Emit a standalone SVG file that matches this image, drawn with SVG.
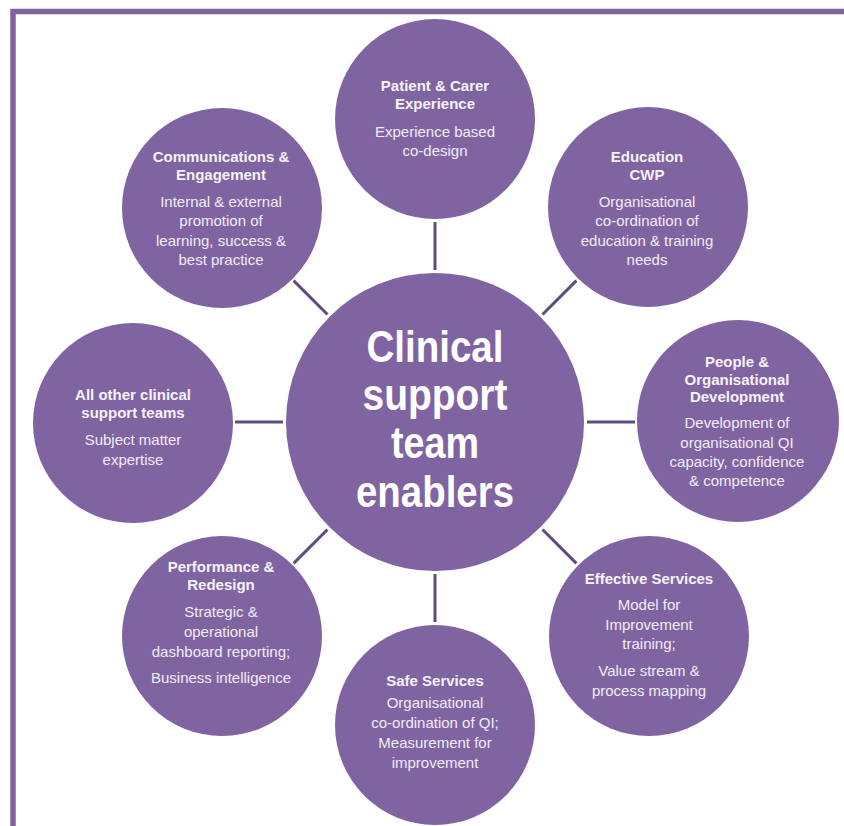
<svg xmlns="http://www.w3.org/2000/svg" width="844" height="826" viewBox="0 0 844 826">
<style>
.c{fill:#8064A2}
.t{font-family:"Liberation Sans",Arial,sans-serif;font-size:15px;font-weight:bold;fill:#F6F3FA;text-anchor:middle}
.b{font-family:"Liberation Sans",Arial,sans-serif;font-size:15px;fill:#F1EDF6;text-anchor:middle}
.m{font-family:"Liberation Sans",Arial,sans-serif;font-size:44px;font-weight:bold;fill:#FFFFFF;text-anchor:middle}
.k{stroke:#5F4B7D;stroke-width:3;fill:none}
</style>
<rect width="844" height="826" fill="#FFFFFF"/>
<path d="M13 826 V11.5 H844" fill="none" stroke="#8064A2" stroke-width="5.5"/>
<g id="connectors" class="k">
<line x1="435" y1="270" x2="435" y2="222"/>
<line x1="542.5" y1="314.5" x2="576.4" y2="280.6"/>
<line x1="587" y1="422" x2="635" y2="422"/>
<line x1="542.5" y1="529.5" x2="576.4" y2="563.4"/>
<line x1="435" y1="574" x2="435" y2="622"/>
<line x1="327.5" y1="529.5" x2="293.6" y2="563.4"/>
<line x1="283" y1="422" x2="235" y2="422"/>
<line x1="327.5" y1="314.5" x2="293.6" y2="280.6"/>
</g>
<g id="center">
<circle class="c" cx="435" cy="422" r="149"/>
<text class="m" x="435" y="362" textLength="137" lengthAdjust="spacingAndGlyphs">Clinical</text>
<text class="m" x="435" y="410" textLength="145" lengthAdjust="spacingAndGlyphs">support</text>
<text class="m" x="435" y="458" textLength="88" lengthAdjust="spacingAndGlyphs">team</text>
<text class="m" x="435" y="507" textLength="158" lengthAdjust="spacingAndGlyphs">enablers</text>
</g>
<g id="patient">
<circle class="c" cx="435" cy="119" r="100"/>
<text class="t" x="435" y="91">Patient &amp; Carer</text>
<text class="t" x="435" y="109">Experience</text>
<text class="b" x="435" y="137">Experience based</text>
<text class="b" x="435" y="156">co-design</text>
</g>
<g id="education">
<circle class="c" cx="648" cy="207" r="100"/>
<text class="t" x="647" y="162">Education</text>
<text class="t" x="647" y="180">CWP</text>
<text class="b" x="647" y="207">Organisational</text>
<text class="b" x="647" y="226">co-ordination of</text>
<text class="b" x="647" y="246">education &amp; training</text>
<text class="b" x="647" y="265">needs</text>
</g>
<g id="people">
<circle class="c" cx="738" cy="421" r="101"/>
<text class="t" x="737" y="367">People &amp;</text>
<text class="t" x="737" y="385">Organisational</text>
<text class="t" x="737" y="402">Development</text>
<text class="b" x="737" y="428">Development of</text>
<text class="b" x="737" y="448">organisational QI</text>
<text class="b" x="737" y="467">capacity, confidence</text>
<text class="b" x="737" y="486">&amp; competence</text>
</g>
<g id="effective">
<circle class="c" cx="649" cy="636" r="100"/>
<text class="t" x="649" y="584">Effective Services</text>
<text class="b" x="649" y="610">Model for</text>
<text class="b" x="649" y="630">Improvement</text>
<text class="b" x="649" y="649">training;</text>
<text class="b" x="649" y="676">Value stream &amp;</text>
<text class="b" x="649" y="696">process mapping</text>
</g>
<g id="safe">
<circle class="c" cx="435" cy="725" r="100"/>
<text class="t" x="435" y="686">Safe Services</text>
<text class="b" x="435" y="708">Organisational</text>
<text class="b" x="435" y="728">co-ordination of QI;</text>
<text class="b" x="435" y="748">Measurement for</text>
<text class="b" x="435" y="768">improvement</text>
</g>
<g id="performance">
<circle class="c" cx="222" cy="636" r="100"/>
<text class="t" x="221" y="572">Performance &amp;</text>
<text class="t" x="221" y="590">Redesign</text>
<text class="b" x="221" y="617">Strategic &amp;</text>
<text class="b" x="221" y="637">operational</text>
<text class="b" x="221" y="657">dashboard reporting;</text>
<text class="b" x="221" y="683">Business intelligence</text>
</g>
<g id="allother">
<circle class="c" cx="133" cy="423" r="100"/>
<text class="t" x="133" y="400">All other clinical</text>
<text class="t" x="133" y="418">support teams</text>
<text class="b" x="133" y="445">Subject matter</text>
<text class="b" x="133" y="465">expertise</text>
</g>
<g id="communications">
<circle class="c" cx="222" cy="208" r="100"/>
<text class="t" x="221" y="162">Communications &amp;</text>
<text class="t" x="221" y="180">Engagement</text>
<text class="b" x="221" y="207">Internal &amp; external</text>
<text class="b" x="221" y="226">promotion of</text>
<text class="b" x="221" y="246">learning, success &amp;</text>
<text class="b" x="221" y="265">best practice</text>
</g>
</svg>
